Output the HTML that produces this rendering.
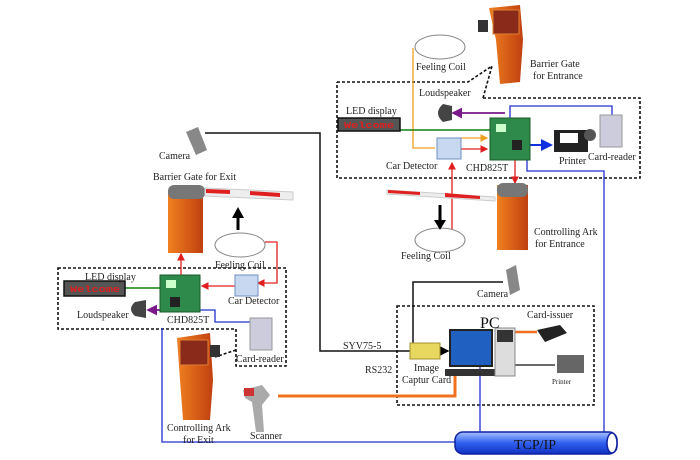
<!DOCTYPE html>
<html><head><meta charset="utf-8"><style>
html,body{margin:0;padding:0;background:#fff;}
svg{display:block;}
text{font-family:"Liberation Serif",serif;font-size:10px;fill:#222;}
</style></head><body>
<svg width="700" height="460" viewBox="0 0 700 460" xmlns="http://www.w3.org/2000/svg">
<defs>
<marker id="ar" markerWidth="6" markerHeight="6" refX="5" refY="3" orient="auto"><path d="M0,0 L6,3 L0,6z" fill="#e02020"/></marker>
<marker id="ao" markerWidth="6" markerHeight="6" refX="5" refY="3" orient="auto"><path d="M0,0 L6,3 L0,6z" fill="#f0a020"/></marker>
<marker id="ap" markerWidth="6" markerHeight="6" refX="5" refY="3" orient="auto"><path d="M0,0 L6,3 L0,6z" fill="#7a1a8a"/></marker>
<marker id="ab" markerWidth="6" markerHeight="6" refX="5" refY="3" orient="auto"><path d="M0,0 L6,3 L0,6z" fill="#1030e0"/></marker>
<marker id="ak" markerWidth="6" markerHeight="6" refX="5" refY="3" orient="auto"><path d="M0,0 L6,3 L0,6z" fill="#000"/></marker>
<linearGradient id="tube" x1="0" y1="0" x2="0" y2="1"><stop offset="0" stop-color="#a8c0ff"/><stop offset="0.5" stop-color="#3060f0"/><stop offset="1" stop-color="#1030c0"/></linearGradient>
<linearGradient id="org" x1="0" y1="0" x2="1" y2="0"><stop offset="0" stop-color="#f08020"/><stop offset="1" stop-color="#c04010"/></linearGradient>
</defs>

<g fill="none" stroke="#111" stroke-width="1.6" stroke-dasharray="3,2">
<path d="M337,82 H468 L492,66"/>
<path d="M483,98 L492,66"/>
<path d="M483,98 H640 V178 H337 V82"/>
<path d="M58,268 H286 V366 H236 V329 H58 Z"/>
<path d="M236,350 L215,357"/>
<path d="M397,306 H594 V405 H397 Z"/>
</g>

<path d="M205,133 H320 V351 H410" fill="none" stroke="#111" stroke-width="1.5"/>
<path d="M503,282 H413 V350" fill="none" stroke="#111" stroke-width="1.5"/>
<path d="M515,365 H555" stroke="#111" stroke-width="1.3"/>
<path d="M440,351 H448" stroke="#111" stroke-width="1.5" marker-end="url(#ak)"/>

<path d="M278,396 H455 V372" fill="none" stroke="#f07020" stroke-width="3"/>
<path d="M515,332 H537" stroke="#f07020" stroke-width="2.5"/>

<g fill="none" stroke="#2030d0" stroke-width="1.3">
<path d="M510,118 V106 H612 V115"/>
<path d="M527,158 V171 H604 V432"/>
<path d="M198,310 H215 V322 H250"/>
<path d="M162,328 V442 H456"/>
<path d="M480,365 V432"/>
</g>
<path d="M530,145 H551" stroke="#1030e0" stroke-width="2" marker-end="url(#ab)"/>

<ellipse cx="440" cy="47" rx="25" ry="12" fill="#fff" stroke="#888"/>
<path d="M413,48 V148 H435" fill="none" stroke="#f0a020" stroke-width="1.3"/>
<path d="M460,138 H487" stroke="#f0a020" stroke-width="1.3" marker-end="url(#ao)"/>
<path d="M460,149 H487" stroke="#e02020" stroke-width="1.3" marker-end="url(#ar)"/>
<path d="M400,130 H490" stroke="#108010" stroke-width="1.6"/>
<path d="M505,113 H453" stroke="#7a1a8a" stroke-width="1.8" marker-end="url(#ap)"/>
<path d="M515,160 V183" stroke="#e02020" stroke-width="1.3" marker-end="url(#ar)"/>
<path d="M452,235 V163" stroke="#e02020" stroke-width="1.3" marker-end="url(#ar)"/>
<ellipse cx="440" cy="240" rx="25" ry="12" fill="#fff" stroke="#888"/>

<rect x="338" y="118" width="62" height="13" fill="#555" stroke="#111" stroke-width="1.5"/>
<text x="344" y="128" textLength="50" lengthAdjust="spacingAndGlyphs" style="fill:#e02020;font-family:'Liberation Mono',monospace;font-size:9px;font-weight:bold">Welcome</text>
<path d="M443,104 L452,106 L452,120 L443,122 Q433,113 443,104z" fill="#444"/>
<rect x="437" y="138" width="24" height="21" fill="#c8d8f0" stroke="#7090c0"/>
<rect x="490" y="118" width="40" height="42" fill="#2e8a4a" stroke="#1a5a2a"/>
<rect x="496" y="124" width="10" height="8" fill="#cfc"/><rect x="512" y="140" width="10" height="10" fill="#222"/>
<rect x="554" y="130" width="34" height="22" fill="#222"/><rect x="560" y="133" width="18" height="10" fill="#fff"/>
<circle cx="590" cy="135" r="6" fill="#555"/>
<rect x="600" y="115" width="22" height="32" fill="#ccd" stroke="#999"/>
<path d="M489,8 L520,5 L523,40 L520,82 L500,84 L496,40 Z" fill="url(#org)"/>
<rect x="493" y="10" width="26" height="24" fill="#8a2a1a" stroke="#e08030"/>
<rect x="478" y="20" width="10" height="12" fill="#333"/>
<path d="M387,190 L495,197 L495,201 L387,194Z" fill="#eee" stroke="#ccc"/>
<path d="M388,190 L420,192 L420,195 L388,193Z" fill="#e02020"/><path d="M445,193 L480,196 L480,199 L445,197Z" fill="#e02020"/>
<rect x="497" y="185" width="31" height="65" fill="url(#org)"/>
<rect x="497" y="183" width="31" height="14" rx="6" fill="#777"/>
<path d="M440,205 V222" stroke="#000" stroke-width="3"/><path d="M434,220 L446,220 L440,230Z" fill="#000"/>

<ellipse cx="240" cy="245" rx="25" ry="12" fill="#fff" stroke="#888"/>
<path d="M265,242 H277 V283 H258" fill="none" stroke="#e02020" stroke-width="1.3" marker-end="url(#ar)"/>
<path d="M235,286 H202" stroke="#e02020" stroke-width="1.3" marker-end="url(#ar)"/>
<path d="M181,275 V254" stroke="#e02020" stroke-width="1.3" marker-end="url(#ar)"/>
<path d="M125,288 H160" stroke="#108010" stroke-width="1.6"/>
<path d="M160,310 H148" stroke="#7a1a8a" stroke-width="1.8" marker-end="url(#ap)"/>
<path d="M238,230 V216" stroke="#000" stroke-width="3"/><path d="M232,218 L244,218 L238,207Z" fill="#000"/>
<rect x="64" y="281" width="61" height="15" fill="#555" stroke="#111" stroke-width="1.5"/>
<text x="70" y="292" textLength="50" lengthAdjust="spacingAndGlyphs" style="fill:#e02020;font-family:'Liberation Mono',monospace;font-size:9px;font-weight:bold">Welcome</text>
<path d="M135,302 L146,300 L146,318 L135,316 Q127,309 135,302z" fill="#444"/>
<rect x="160" y="275" width="40" height="37" fill="#2e8a4a" stroke="#1a5a2a"/>
<rect x="166" y="280" width="10" height="8" fill="#cfc"/><rect x="170" y="297" width="10" height="10" fill="#222"/>
<rect x="235" y="275" width="23" height="21" fill="#c8d8f0" stroke="#7090c0"/>
<rect x="250" y="318" width="22" height="32" fill="#ccd" stroke="#999"/>
<path d="M186,132 L198,127 L207,150 L196,155Z" fill="#888"/>
<rect x="168" y="190" width="35" height="63" fill="url(#org)"/>
<rect x="168" y="185" width="37" height="14" rx="6" fill="#777"/>
<path d="M205,188 L293,192 L293,200 L205,196Z" fill="#eee" stroke="#ccc"/>
<path d="M206,189 L230,190 L230,194 L206,193Z" fill="#e02020"/><path d="M250,191 L280,193 L280,197 L250,195Z" fill="#e02020"/>
<path d="M177,338 L210,333 L213,380 L210,420 L183,420 L180,380Z" fill="url(#org)"/>
<rect x="180" y="340" width="28" height="25" fill="#8a2a1a" stroke="#e08030"/>
<rect x="210" y="345" width="10" height="12" fill="#333"/>
<path d="M243,390 L262,385 L270,395 L262,405 L264,432 L256,432 L252,402 L245,398Z" fill="#aaa"/>
<rect x="244" y="388" width="10" height="8" fill="#c33"/>

<path d="M506,270 L516,265 L520,290 L510,295Z" fill="#888"/>
<rect x="410" y="343" width="30" height="16" fill="#e8d860" stroke="#a09030"/>
<rect x="450" y="330" width="42" height="36" fill="#2060c0" stroke="#222" stroke-width="2"/>
<rect x="445" y="369" width="52" height="7" fill="#333"/>
<rect x="495" y="328" width="20" height="48" fill="#ddd" stroke="#888"/>
<rect x="497" y="330" width="16" height="12" fill="#333"/>
<path d="M537,330 L560,325 L567,333 L545,342Z" fill="#222"/>
<rect x="557" y="355" width="27" height="18" fill="#666"/>

<rect x="455" y="432" width="162" height="22" rx="8" fill="url(#tube)" stroke="#1020a0" stroke-width="1.5"/>
<ellipse cx="612" cy="443" rx="5" ry="10" fill="#fff" stroke="#1020a0" stroke-width="1.5"/>
<text x="514" y="449" style="font-size:14px;fill:#111">TCP/IP</text>

<text x="416" y="70">Feeling Coil</text>
<text x="530" y="67">Barrier  Gate</text>
<text x="533" y="79">for Entrance</text>
<text x="419" y="96">Loudspeaker</text>
<text x="346" y="114">LED display</text>
<text x="386" y="169">Car Detector</text>
<text x="466" y="171">CHD825T</text>
<text x="559" y="164">Printer</text>
<text x="588" y="160">Card-reader</text>
<text x="534" y="235">Controlling  Ark</text>
<text x="535" y="247">for Entrance</text>
<text x="401" y="259">Feeling Coil</text>
<text x="159" y="159">Camera</text>
<text x="153" y="180">Barrier Gate for Exit</text>
<text x="215" y="268">Feeling Coil</text>
<text x="85" y="280">LED display</text>
<text x="228" y="304">Car Detector</text>
<text x="77" y="318">Loudspeaker</text>
<text x="167" y="323">CHD825T</text>
<text x="236" y="362">Card-reader</text>
<text x="167" y="431">Controlling Ark</text>
<text x="183" y="443">for Exit</text>
<text x="250" y="439">Scanner</text>
<text x="477" y="297">Camera</text>
<text x="343" y="349">SYV75-5</text>
<text x="365" y="373">RS232</text>
<text x="414" y="371">Image</text>
<text x="402" y="383">Captur Card</text>
<text x="480" y="328" style="font-size:16px;fill:#111">PC</text>
<text x="527" y="318">Card-issuer</text>
<text x="552" y="384" style="font-size:7px">Printer</text>
</svg>
</body></html>
